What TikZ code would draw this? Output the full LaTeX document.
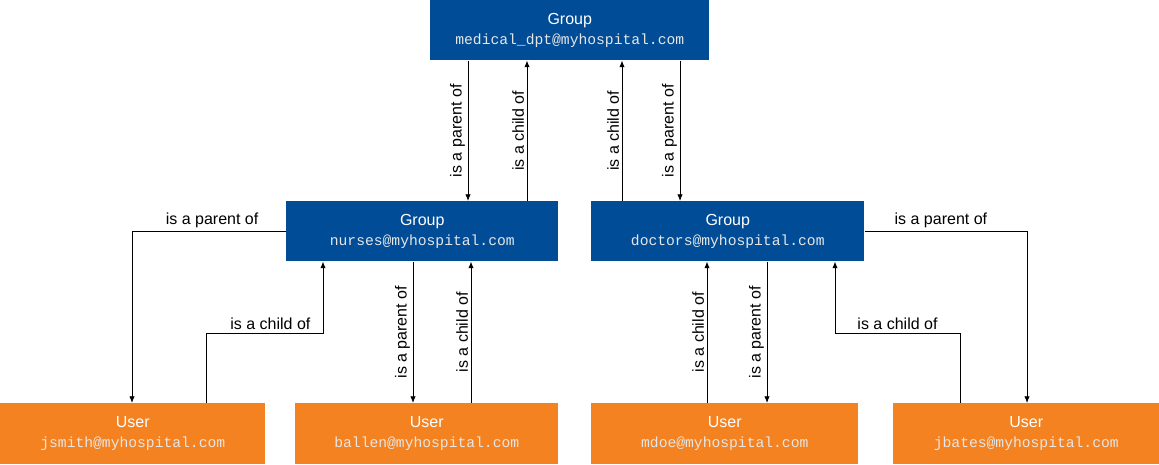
\documentclass[tikz,border=0pt]{standalone}
\usepackage{fontspec}
\setmainfont{Liberation Sans}
\newfontfamily\monof{Liberation Mono}
\usetikzlibrary{arrows.meta}
\definecolor{gblue}{HTML}{004C97}
\definecolor{uorange}{HTML}{F58220}
\definecolor{mgray}{HTML}{E6E6E6}
\tikzset{
  box/.style={anchor=north west,inner sep=0pt,text=white,align=center,font=\fontsize{12}{15}\selectfont},
  grp/.style={box,fill=gblue},
  usr/.style={box,fill=uorange},
  conn/.style={line width=0.6pt,-{Latex[length=5pt,width=4pt]}},
  lbl/.style={font=\fontsize{12}{14}\selectfont,inner sep=2pt},
  vlbl/.style={lbl,rotate=90,anchor=south},
}
\newcommand{\mtxt}[1]{{\monof\fontsize{11}{14}\selectfont\color{mgray}#1}}
\begin{document}
\begin{tikzpicture}[x=0.75pt,y=-0.75pt]
\useasboundingbox (0,0) rectangle (1159,464);
\node[grp,minimum width=279*0.75pt,minimum height=60*0.75pt] (top) at (430,0) {Group\\\mtxt{medical\_dpt@myhospital.com}};
\node[grp,minimum width=272*0.75pt,minimum height=60*0.75pt] (nur) at (286,201) {Group\\\mtxt{nurses@myhospital.com}};
\node[grp,minimum width=273*0.75pt,minimum height=60*0.75pt] (doc) at (591,201) {Group\\\mtxt{doctors@myhospital.com}};
\node[usr,minimum width=265*0.75pt,minimum height=61*0.75pt] (js) at (0,403) {User\\\mtxt{jsmith@myhospital.com}};
\node[usr,minimum width=263*0.75pt,minimum height=61*0.75pt] (ba) at (295,403) {User\\\mtxt{ballen@myhospital.com}};
\node[usr,minimum width=267*0.75pt,minimum height=61*0.75pt] (md) at (591,403) {User\\\mtxt{mdoe@myhospital.com}};
\node[usr,minimum width=266*0.75pt,minimum height=61*0.75pt] (jb) at (893,403) {User\\\mtxt{jbates@myhospital.com}};
\foreach \x in {468,527,622,680,413,471,707,767,132,206,323,1027,960,835}{\coordinate (x\x) at (\x,0);}
\coordinate (ymid) at (0,231);
\coordinate (ylow) at (0,333);
% top level
\draw[conn] (top.south -| x468) -- node[vlbl,pos=0.5]{is a parent of} (nur.north -| x468);
\draw[conn] (nur.north -| x527) -- node[vlbl,pos=0.5]{is a child of} (top.south -| x527);
\draw[conn] (doc.north -| x622) -- node[vlbl,pos=0.5]{is a child of} (top.south -| x622);
\draw[conn] (top.south -| x680) -- node[vlbl,pos=0.5]{is a parent of} (doc.north -| x680);
% nurses-ballen
\draw[conn] (nur.south -| x413) -- node[vlbl,pos=0.5]{is a parent of} (ba.north -| x413);
\draw[conn] (ba.north -| x471) -- node[vlbl,pos=0.5]{is a child of} (nur.south -| x471);
% doctors-mdoe
\draw[conn] (md.north -| x707) -- node[vlbl,pos=0.5]{is a child of} (doc.south -| x707);
\draw[conn] (doc.south -| x767) -- node[vlbl,pos=0.5]{is a parent of} (md.north -| x767);
% nurses-jsmith
\draw[conn] (nur.west |- ymid) -- node[lbl,above,pos=0.48]{is a parent of} (x132 |- ymid) -- (js.north -| x132);
\draw[conn] (js.north -| x206) -- (x206 |- ylow) -- node[lbl,above,pos=0.55]{is a child of} (x323 |- ylow) -- (nur.south -| x323);
% doctors-jbates
\draw[conn] (doc.east |- ymid) -- node[lbl,above,pos=0.47]{is a parent of} (x1027 |- ymid) -- (jb.north -| x1027);
\draw[conn] (jb.north -| x960) -- (x960 |- ylow) -- node[lbl,above,pos=0.5]{is a child of} (x835 |- ylow) -- (doc.south -| x835);
\end{tikzpicture}
\end{document}
